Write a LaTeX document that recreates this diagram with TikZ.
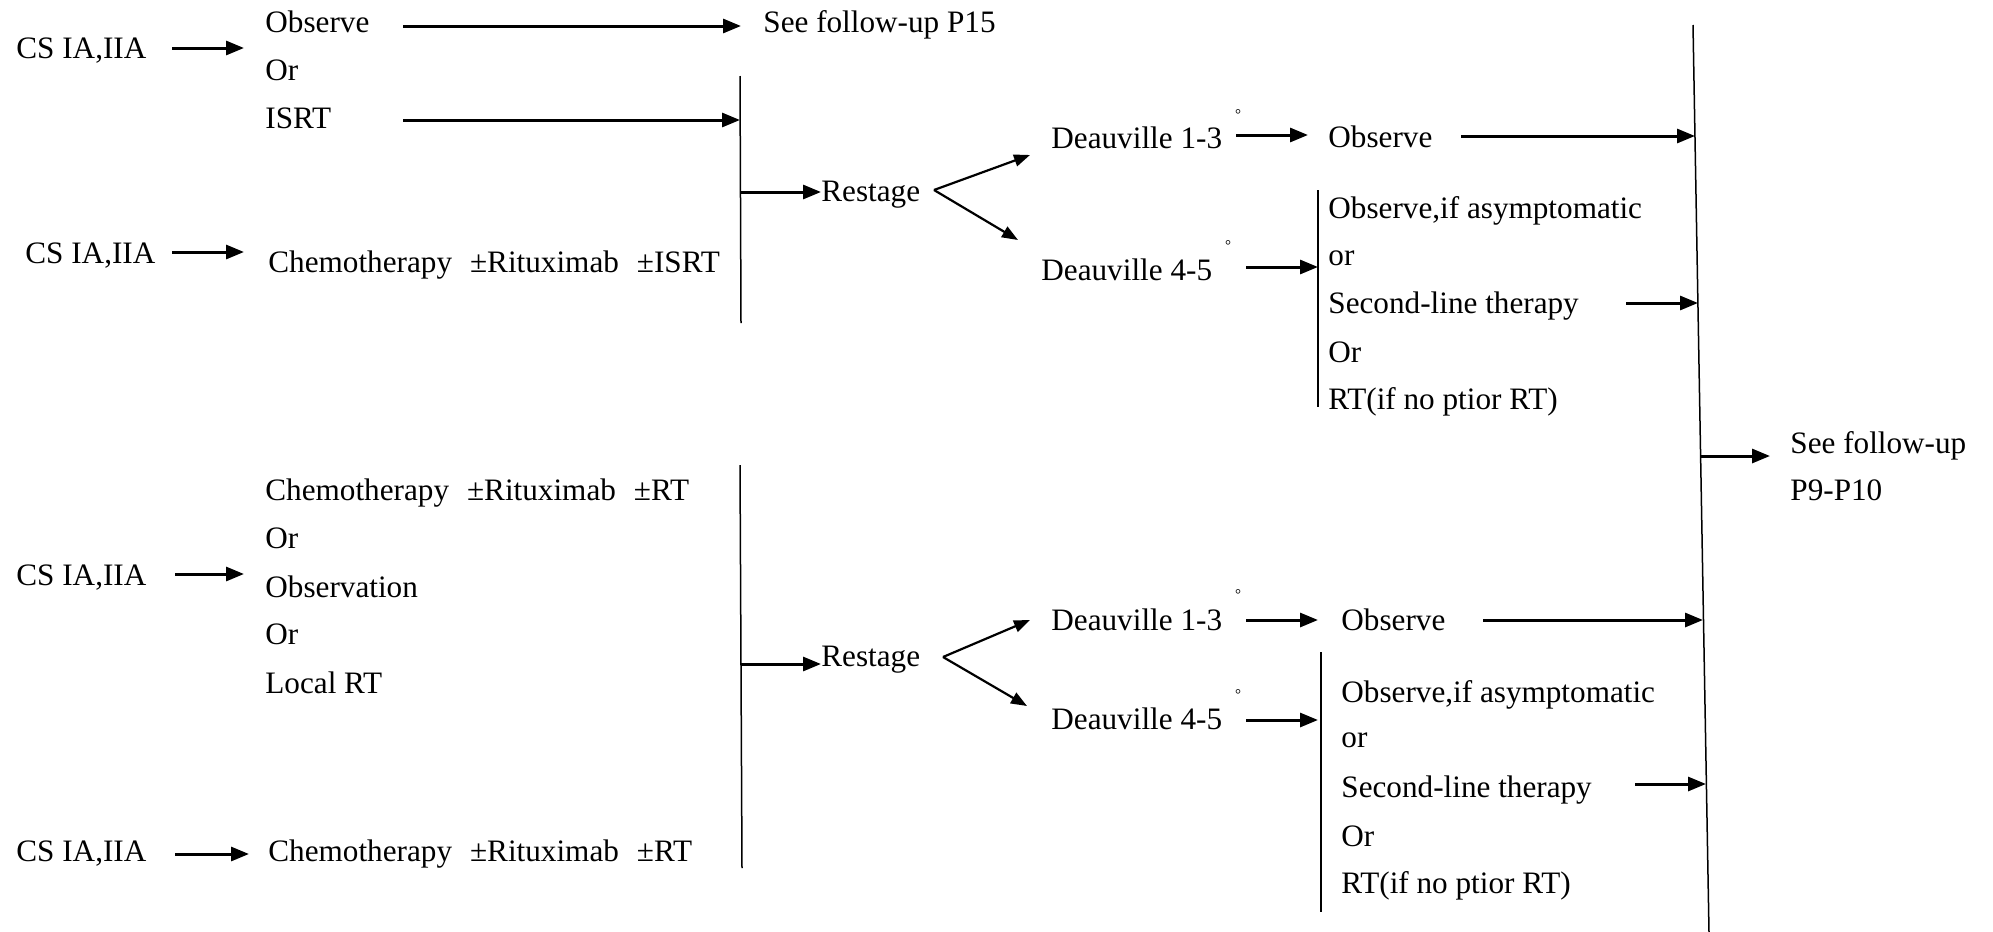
\documentclass[tikz,border=0pt]{standalone}
\usepackage{fontspec}
\setmainfont{Liberation Serif}
\usetikzlibrary{arrows.meta}
\begin{document}
\begin{tikzpicture}[x=0.5pt,y=-0.5pt,
  txt/.style={anchor=base west, inner sep=0pt, font=\fontsize{15.6pt}{18pt}\selectfont},
  deg/.style={anchor=center, inner sep=0pt, font=\fontsize{7.5pt}{8pt}\selectfont},
  arr/.style={line width=1.5pt, -{Triangle[length=9pt,width=7pt]}},
  diag/.style={line width=1.1pt, -{Triangle[length=8pt,width=6pt]}},
  vline/.style={line width=0.75pt}]
\useasboundingbox (0,0) rectangle (1993,932);
\def\gap{\hspace{9pt}}
% ---------- top-left block ----------
\node[txt] (cs1) at (16,58) {CS IA,IIA};
\node[txt] (obs1) at (265,32) {Observe};
\node[txt] (sf1) at (763,32) {See follow-up P15};
\node[txt] (or1) at (265,80) {Or};
\node[txt] (isrt) at (265,128) {ISRT};
\node[txt] (cs2) at (25,263) {CS IA,IIA};
\node[txt] (chemo1) at (268,272) {Chemotherapy\gap ±Rituximab\gap ±ISRT};
\coordinate (v1t) at (740,76);
\coordinate (v1b) at (741,323);
\draw[vline] (v1t) -- (v1b);
\coordinate (a1s) at (172,48); \coordinate (a1e) at (244,48);
\draw[arr] (a1s) -- (a1e);
\coordinate (a2s) at (403,26); \coordinate (a2e) at (741,26);
\draw[arr] (a2s) -- (a2e);
\coordinate (a3s) at (403,120); \coordinate (a3e) at (740,120);
\draw[arr] (a3s) -- (a3e);
\coordinate (a4s) at (172,252); \coordinate (a4e) at (244,252);
\draw[arr] (a4s) -- (a4e);
\node[txt] (rs1) at (821,201) {Restage};
\coordinate (a5s) at (741,192);
\draw[arr] (a5s) -- (rs1.west |- a5s);
\coordinate (rv1) at (934,190);
\coordinate (rd1) at (1030,155);
\coordinate (rd2) at (1018,240);
\draw[diag] (rv1) -- (rd1);
\draw[diag] (rv1) -- (rd2);
% ---------- top-right block ----------
\node[txt] (d13a) at (1051,148) {Deauville 1-3};
\node[deg] (dg1) at (1238,115) {°};
\coordinate (a6s) at (1236,135); \coordinate (a6e) at (1308,135);
\draw[arr] (a6s) -- (a6e);
\node[txt] (obs2) at (1328,147) {Observe};
\node[txt] (d45a) at (1041,280) {Deauville 4-5};
\node[deg] (dg2) at (1228,246) {°};
\coordinate (a8s) at (1246,267); \coordinate (a8e) at (1318,267);
\draw[arr] (a8s) -- (a8e);
\coordinate (b2t) at (1318,190); \coordinate (b2b) at (1318,407);
\draw[vline] (b2t) -- (b2b);
\node[txt] (oa1) at (1328,218) {Observe,if asymptomatic};
\node[txt] (oa2) at (1328,265) {or};
\node[txt] (oa3) at (1328,313) {Second-line therapy};
\node[txt] (oa4) at (1328,362) {Or};
\node[txt] (oa5) at (1328,409) {RT(if no ptior RT)};
% ---------- big line ----------
\coordinate (bt) at (1693,25);
\coordinate (bb) at (1709,932);
\draw[vline] (bt) -- (bb);
\coordinate (a7s) at (1461,136); \coordinate (a7e) at (1695,136);
\draw[arr] (a7s) -- (a7e);
\coordinate (a9s) at (1626,303); \coordinate (a9e) at (1698,303);
\draw[arr] (a9s) -- (a9e);
\node[txt] (sf2) at (1790,453) {See follow-up};
\node[txt] (sf3) at (1790,500) {P9-P10};
\coordinate (a10s) at (1701,456); \coordinate (a10e) at (1770,456);
\draw[arr] (a10s) -- (a10e);
% ---------- bottom-left block ----------
\node[txt] (chemo2) at (265,500) {Chemotherapy\gap ±Rituximab\gap ±RT};
\node[txt] (or2) at (265,548) {Or};
\node[txt] (cs3) at (16,585) {CS IA,IIA};
\node[txt] (obsv) at (265,597) {Observation};
\node[txt] (or3) at (265,644) {Or};
\node[txt] (lrt) at (265,693) {Local RT};
\node[txt] (cs4) at (16,861) {CS IA,IIA};
\node[txt] (chemo3) at (268,861) {Chemotherapy\gap ±Rituximab\gap ±RT};
\coordinate (a11s) at (175,574); \coordinate (a11e) at (244,574);
\draw[arr] (a11s) -- (a11e);
\coordinate (a12s) at (175,854); \coordinate (a12e) at (249,854);
\draw[arr] (a12s) -- (a12e);
\coordinate (v2t) at (740,465);
\coordinate (v2b) at (742,868);
\draw[vline] (v2t) -- (v2b);
\node[txt] (rs2) at (821,666) {Restage};
\coordinate (a13s) at (741,664);
\draw[arr] (a13s) -- (rs2.west |- a13s);
\coordinate (rv2) at (943,657);
\coordinate (rd3) at (1030,620);
\coordinate (rd4) at (1027,706);
\draw[diag] (rv2) -- (rd3);
\draw[diag] (rv2) -- (rd4);
% ---------- bottom-right block ----------
\node[txt] (d13b) at (1051,630) {Deauville 1-3};
\node[deg] (dg3) at (1238,595) {°};
\coordinate (a14s) at (1246,620); \coordinate (a14e) at (1318,620);
\draw[arr] (a14s) -- (a14e);
\node[txt] (obs3) at (1341,630) {Observe};
\coordinate (a15s) at (1483,620); \coordinate (a15e) at (1703,620);
\draw[arr] (a15s) -- (a15e);
\node[txt] (d45b) at (1051,729) {Deauville 4-5};
\node[deg] (dg4) at (1238,695) {°};
\coordinate (a16s) at (1246,720); \coordinate (a16e) at (1318,720);
\draw[arr] (a16s) -- (a16e);
\coordinate (b3t) at (1321,652); \coordinate (b3b) at (1321,912);
\draw[vline] (b3t) -- (b3b);
\node[txt] (ob1) at (1341,702) {Observe,if asymptomatic};
\node[txt] (ob2) at (1341,747) {or};
\node[txt] (ob3) at (1341,797) {Second-line therapy};
\node[txt] (ob4) at (1341,846) {Or};
\node[txt] (ob5) at (1341,893) {RT(if no ptior RT)};
\coordinate (a17s) at (1635,784); \coordinate (a17e) at (1706,784);
\draw[arr] (a17s) -- (a17e);
\end{tikzpicture}
\end{document}
